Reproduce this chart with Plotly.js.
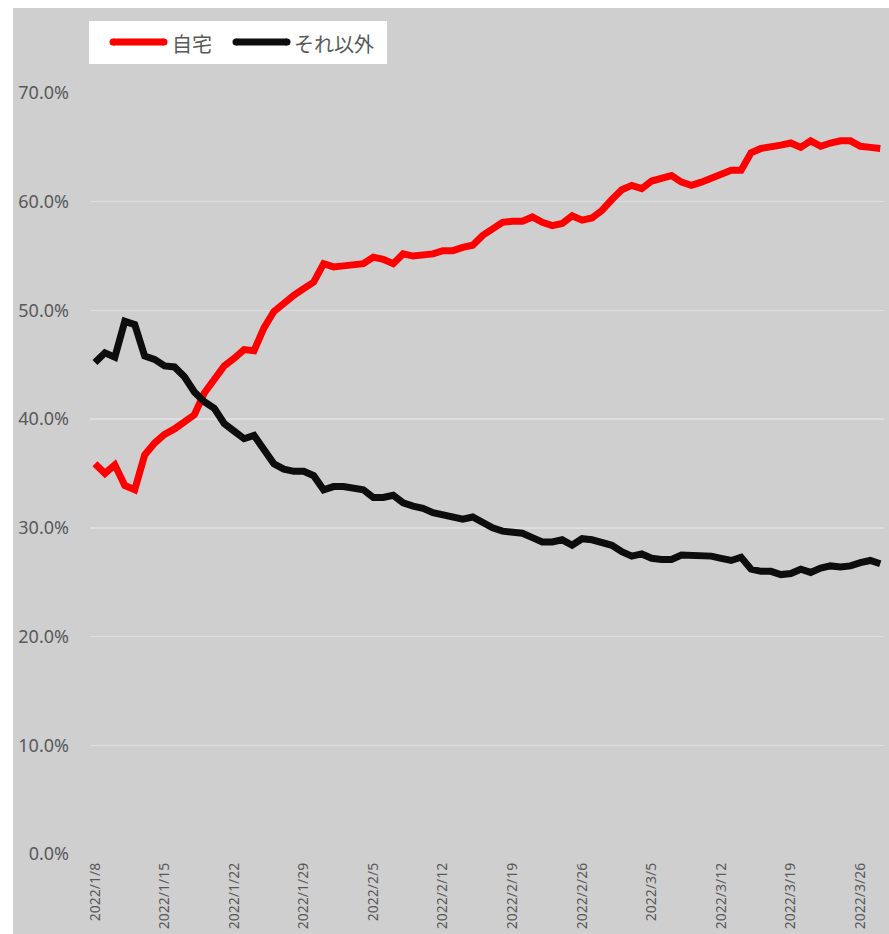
<!DOCTYPE html>
<html>
<head>
<meta charset="utf-8">
<script src="https://cdn.plot.ly/plotly-3.0.1.min.js"></script>
<style>html,body{margin:0;padding:0;background:#fff;}#chart{width:889px;height:934px;}</style>
</head>
<body>
<div id="chart"></div>
<script>
const dates = [
"2022-01-08","2022-01-09","2022-01-10","2022-01-11","2022-01-12","2022-01-13","2022-01-14","2022-01-15",
"2022-01-16","2022-01-17","2022-01-18","2022-01-19","2022-01-20","2022-01-21","2022-01-22","2022-01-23",
"2022-01-24","2022-01-25","2022-01-26","2022-01-27","2022-01-28","2022-01-29","2022-01-30","2022-01-31",
"2022-02-01","2022-02-02","2022-02-03","2022-02-04","2022-02-05","2022-02-06","2022-02-07","2022-02-08",
"2022-02-09","2022-02-10","2022-02-11","2022-02-12","2022-02-13","2022-02-14","2022-02-15","2022-02-16",
"2022-02-17","2022-02-18","2022-02-19","2022-02-20","2022-02-21","2022-02-22","2022-02-23","2022-02-24",
"2022-02-25","2022-02-26","2022-02-27","2022-02-28","2022-03-01","2022-03-02","2022-03-03","2022-03-04",
"2022-03-05","2022-03-06","2022-03-07","2022-03-08","2022-03-09","2022-03-10","2022-03-11","2022-03-12",
"2022-03-13","2022-03-14","2022-03-15","2022-03-16","2022-03-17","2022-03-18","2022-03-19","2022-03-20",
"2022-03-21","2022-03-22","2022-03-23","2022-03-24","2022-03-25","2022-03-26","2022-03-27","2022-03-28"
];

const homeName = "自宅";
const homeValues = [
35.9,35.0,35.8,33.9,33.5,36.7,37.8,38.6,39.1,39.8,
40.4,42.4,43.7,44.9,45.6,46.4,46.3,48.4,49.9,50.7,
51.4,52.0,52.6,54.3,54.0,54.1,54.2,54.3,54.9,54.7,
54.3,55.2,55.0,55.1,55.2,55.5,55.5,55.8,56.0,56.9,
57.6,58.1,58.2,58.2,58.6,58.1,57.8,58.0,58.7,58.3,
58.5,59.2,60.2,61.1,61.5,61.2,61.9,62.1,62.4,61.8,
61.5,61.8,62.2,62.6,62.9,62.9,64.5,64.9,65.0,65.2,
65.4,65.0,65.6,65.1,65.4,65.6,65.6,65.1,65.0,64.9
];

const otherName = "それ以外";
const otherValues = [
45.2,46.1,45.7,49.0,48.7,45.8,45.5,44.9,44.8,43.9,
42.5,41.6,41.0,39.6,38.9,38.2,38.5,37.2,35.9,35.4,
35.2,35.2,34.8,33.5,33.8,33.8,33.7,33.5,32.8,32.8,
33.0,32.3,32.0,31.8,31.4,31.2,31.1,30.8,31.0,30.5,
30.0,29.7,29.6,29.5,29.1,28.7,28.7,28.9,28.4,29.0,
28.9,28.6,28.4,27.8,27.4,27.6,27.2,27.1,27.1,27.5,
27.5,27.4,27.4,27.2,27.0,27.3,26.2,26.0,26.0,25.7,
25.8,26.2,25.9,26.3,26.5,26.4,26.5,26.8,27.0,26.7
];

const xTickVals = ["2022-01-08","2022-01-15","2022-01-22","2022-01-29","2022-02-05","2022-02-12",
"2022-02-19","2022-02-26","2022-03-05","2022-03-12","2022-03-19","2022-03-26"];
const xTickText = ["2022/1/8","2022/1/15","2022/1/22","2022/1/29","2022/2/5","2022/2/12",
"2022/2/19","2022/2/26","2022/3/5","2022/3/12","2022/3/19","2022/3/26"];
const yTickVals = [0,10,20,30,40,50,60,70];
const yTickText = ["0.0%","10.0%","20.0%","30.0%","40.0%","50.0%","60.0%","70.0%"];

// layout geometry (pixels)
const W = 889, H = 934;
const L = 90, R = 884, T = 93, B = 854;
const px = x => (x - L) / (R - L);
const py = y => (B - y) / (B - T);

const bg = "#d0cfd0";
const textColor = "#595959";
const latin = "'Noto Sans', 'Noto Sans CJK JP', sans-serif";
const cjk = "'Noto Sans CJK JP', 'Noto Sans', sans-serif";

const traces = [
  {x: dates, y: homeValues, name: homeName, type: "scatter", mode: "lines",
   line: {color: "#ff0000", width: 7}, showlegend: false, hoverinfo: "skip"},
  {x: dates, y: otherValues, name: otherName, type: "scatter", mode: "lines",
   line: {color: "#0d0d0d", width: 7}, showlegend: false, hoverinfo: "skip"}
];

const shapes = [
  {type: "rect", xref: "paper", yref: "paper", x0: px(0), x1: px(W), y0: py(0), y1: py(8),
   fillcolor: "#ffffff", line: {width: 0}, layer: "below"},
  {type: "rect", xref: "paper", yref: "paper", x0: px(0), x1: px(13), y0: py(0), y1: py(H),
   fillcolor: "#ffffff", line: {width: 0}, layer: "below"},
  {type: "rect", xref: "paper", yref: "paper", x0: px(89), x1: px(387), y0: py(64), y1: py(21),
   fillcolor: "#ffffff", line: {width: 0}, layer: "above"},
  {type: "line", xref: "paper", yref: "paper", x0: px(113), x1: px(164), y0: py(42), y1: py(42),
   line: {color: "#ff0000", width: 7}, layer: "above"},
  {type: "line", xref: "paper", yref: "paper", x0: px(236), x1: px(287), y0: py(42), y1: py(42),
   line: {color: "#0d0d0d", width: 7}, layer: "above"},
  {type: "circle", xref: "paper", yref: "paper", x0: px(109.5), x1: px(116.5), y0: py(45.5), y1: py(38.5),
   fillcolor: "#ff0000", line: {width: 0}, layer: "above"},
  {type: "circle", xref: "paper", yref: "paper", x0: px(160.5), x1: px(167.5), y0: py(45.5), y1: py(38.5),
   fillcolor: "#ff0000", line: {width: 0}, layer: "above"},
  {type: "circle", xref: "paper", yref: "paper", x0: px(232.5), x1: px(239.5), y0: py(45.5), y1: py(38.5),
   fillcolor: "#0d0d0d", line: {width: 0}, layer: "above"},
  {type: "circle", xref: "paper", yref: "paper", x0: px(283.5), x1: px(290.5), y0: py(45.5), y1: py(38.5),
   fillcolor: "#0d0d0d", line: {width: 0}, layer: "above"}
];

const annotations = [
  {xref: "paper", yref: "paper", x: px(170), y: py(43), xanchor: "left", yanchor: "middle",
   text: homeName, showarrow: false, font: {family: cjk, size: 20, color: textColor}},
  {xref: "paper", yref: "paper", x: px(292), y: py(43), xanchor: "left", yanchor: "middle",
   text: otherName, showarrow: false, font: {family: cjk, size: 20, color: textColor}}
];

const layout = {
  width: W, height: H,
  margin: {l: L, r: W - R, t: T, b: H - B, pad: 0},
  paper_bgcolor: bg, plot_bgcolor: bg,
  showlegend: false,
  xaxis: {
    type: "date",
    range: ["2022-01-07 12:00", "2022-03-28 09:00"],
    tickmode: "array", tickvals: xTickVals, ticktext: xTickText,
    tickangle: -90,
    showgrid: false, zeroline: false, showline: false, ticks: "",
    ticklabelstandoff: 5,
    tickfont: {family: latin, size: 14, color: textColor},
    fixedrange: true
  },
  yaxis: {
    range: [0, 70], tickmode: "array", tickvals: yTickVals, ticktext: yTickText,
    showgrid: true, gridcolor: "#dfdedf", gridwidth: 1.3,
    zeroline: false, showline: false, ticks: "",
    ticklabelstandoff: 20,
    tickfont: {family: latin, size: 18, color: textColor},
    fixedrange: true
  },
  shapes: shapes,
  annotations: annotations
};

Plotly.newPlot("chart", traces, layout, {staticPlot: true, displayModeBar: false});
</script>
</body>
</html>
